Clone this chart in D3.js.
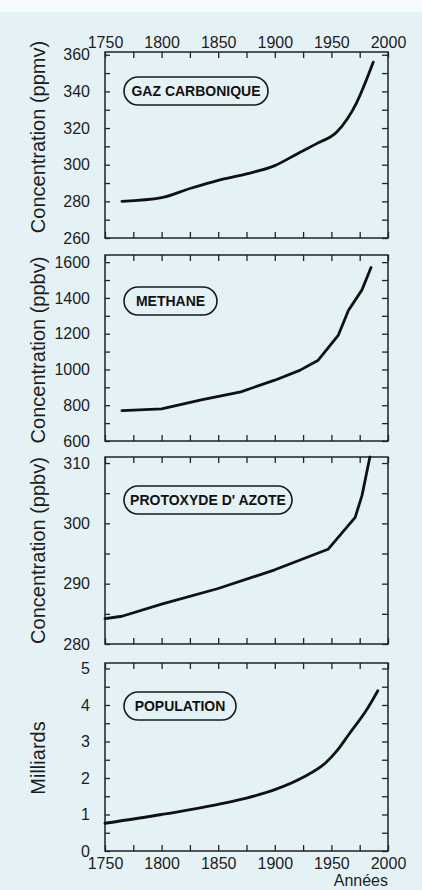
<!DOCTYPE html>
<html lang="fr">
<head>
<meta charset="utf-8">
<title>Gaz carbonique, méthane, protoxyde d'azote et population, 1750-2000</title>
<script src="https://cdn.jsdelivr.net/npm/d3@7"></script>
<style>
  html, body { margin: 0; padding: 0; background: #e5f2f5; }
  svg { display: block; }
  .tick text {
    font-family: "Liberation Sans", Arial, sans-serif;
    font-size: 16px;
    fill: #1d1d1d;
  }
  .tick line { stroke: #222; stroke-width: 1.3; }
  .ytitle, .xtitle {
    font-family: "Liberation Sans", Arial, sans-serif;
    font-size: 20px;
    fill: #1d1d1d;
  }
  .tag text {
    font-family: "Liberation Sans", Arial, sans-serif;
    font-weight: bold;
    font-size: 14px;
    fill: #111;
  }
</style>
</head>
<body>
<div id="chart"></div>
<script>
// values
const co2Years   = [1765, 1800, 1825, 1850, 1875, 1900, 1920, 1937, 1955, 1972, 1987];
const co2Values  = [280, 282, 287, 291.5, 295, 299.5, 306, 311.5, 318, 333.5, 356];

const ch4Years   = [1765, 1800, 1835, 1870, 1900, 1922, 1938, 1956, 1965, 1977, 1985];
const ch4Values  = [770, 780, 830, 875, 940, 995, 1050, 1190, 1330, 1445, 1570];

const n2oYears   = [1750, 1765, 1800, 1850, 1900, 1947, 1971, 1977, 1984];
const n2oValues  = [284.2, 284.6, 286.6, 289.2, 292.3, 295.7, 301, 304.6, 311];

const popYears   = [1750, 1800, 1850, 1875, 1900, 1925, 1945, 1955, 1966, 1981, 1991];
const popValues  = [0.76, 1.0, 1.28, 1.45, 1.68, 2.02, 2.42, 2.75, 3.22, 3.86, 4.39];

const yearTicks  = [1750, 1800, 1850, 1900, 1950, 2000];
const co2Ticks   = [260, 280, 300, 320, 340, 360];
const ch4Ticks   = [600, 800, 1000, 1200, 1400, 1600];
const n2oTicks   = [280, 290, 300, 310];
const popTicks   = [0, 1, 2, 3, 4, 5];

const seriesNames = ["GAZ CARBONIQUE", "METHANE", "PROTOXYDE D' AZOTE", "POPULATION"];
const yTitles     = ["Concentration (ppmv)", "Concentration (ppbv)", "Concentration (ppbv)", "Milliards"];

const width = 422;
const height = 890;
const left = 105, right = 388;

// layout of the four stacked frames
const panels = [
  { years: co2Years, values: co2Values, ticks: co2Ticks, minor: 10,  domain: [260, 361.5], top: 52,  bottom: 238, tagY: 25, tagW: 144, titleShift: -8, curve: d3.curveMonotoneX },
  { years: ch4Years, values: ch4Values, ticks: ch4Ticks, minor: 100, domain: [600, 1640],  top: 255, bottom: 441, tagY: 32, tagW: 93,  titleShift: 2,  curve: d3.curveLinear },
  { years: n2oYears, values: n2oValues, ticks: n2oTicks, minor: 5,   domain: [280, 311],   top: 457, bottom: 644, tagY: 29, tagW: 168, titleShift: 0,  curve: d3.curveLinear },
  { years: popYears, values: popValues, ticks: popTicks, minor: 0.5, domain: [0, 5.15],    top: 663, bottom: 851, tagY: 29, tagW: 112, titleShift: 1,  curve: d3.curveMonotoneX }
];

const svg = d3.select('#chart')
  .append('svg')
  .attr('width', width)
  .attr('height', height);

svg.append('rect').attr('width', width).attr('height', height).attr('fill', '#e5f2f5');
svg.append('rect').attr('width', width).attr('height', 12).attr('fill', '#f6fafa');

const x = d3.scaleLinear().domain([1750, 2000]).range([left, right]);
const yearMinor = d3.range(1750, 2001, 25);

const noDomain = g => g.select('.domain').remove();

panels.forEach((p, i) => {
  const y = d3.scaleLinear().domain(p.domain).range([p.bottom, p.top]);
  const lo = p.ticks[0], hi = p.ticks[p.ticks.length - 1];
  const yMinor = d3.range(0, Math.round((hi - lo) / p.minor) + 1).map(k => lo + k * p.minor);
  const g = svg.append('g');

  // inward ticks on all four sides
  g.append('g')
    .attr('transform', `translate(${left},0)`)
    .call(d3.axisLeft(y).tickValues(yMinor).tickSize(-5).tickFormat(''))
    .call(noDomain);
  g.append('g')
    .attr('transform', `translate(${right},0)`)
    .call(d3.axisRight(y).tickValues(yMinor).tickSize(-6).tickFormat(''))
    .call(noDomain);
  g.append('g')
    .attr('transform', `translate(0,${p.top})`)
    .call(d3.axisTop(x).tickValues(yearMinor).tickSize(-6).tickFormat(''))
    .call(noDomain);
  g.append('g')
    .attr('transform', `translate(0,${p.bottom})`)
    .call(d3.axisBottom(x).tickValues(yearMinor).tickSize(-6).tickFormat(''))
    .call(noDomain);

  // value labels
  g.append('g')
    .attr('transform', `translate(${left},0)`)
    .call(d3.axisLeft(y).tickValues(p.ticks).tickSize(0).tickPadding(15).tickFormat(d3.format('d')))
    .call(noDomain);

  if (i === 0) {
    g.append('g')
      .attr('transform', `translate(0,${p.top})`)
      .call(d3.axisTop(x).tickValues(yearTicks).tickSize(0).tickPadding(4).tickFormat(d3.format('d')))
      .call(noDomain);
  }
  if (i === panels.length - 1) {
    g.append('g')
      .attr('transform', `translate(0,${p.bottom})`)
      .call(d3.axisBottom(x).tickValues(yearTicks).tickSize(0).tickPadding(7).tickFormat(d3.format('d')))
      .call(noDomain);
  }

  g.append('rect')
    .attr('x', left)
    .attr('y', p.top)
    .attr('width', right - left)
    .attr('height', p.bottom - p.top)
    .attr('fill', 'none')
    .attr('stroke', '#222')
    .attr('stroke-width', 1.5);

  const line = d3.line()
    .x(d => x(d[0]))
    .y(d => y(d[1]))
    .curve(p.curve);

  g.append('path')
    .datum(p.years.map((yr, k) => [yr, p.values[k]]))
    .attr('d', line)
    .attr('fill', 'none')
    .attr('stroke', '#111')
    .attr('stroke-width', 2.8)
    .attr('stroke-linejoin', 'round')
    .attr('stroke-linecap', 'round');

  // rounded name tag
  const tag = g.append('g')
    .attr('class', 'tag')
    .attr('transform', `translate(124,${p.top + p.tagY})`);
  tag.append('rect')
    .attr('width', p.tagW)
    .attr('height', 28)
    .attr('rx', 14)
    .attr('fill', 'none')
    .attr('stroke', '#1a1a1a')
    .attr('stroke-width', 1.6);
  tag.append('text')
    .attr('x', p.tagW / 2)
    .attr('y', 14)
    .attr('dy', '0.36em')
    .attr('text-anchor', 'middle')
    .text(seriesNames[i]);

  svg.append('text')
    .attr('class', 'ytitle')
    .attr('text-anchor', 'middle')
    .attr('transform', `translate(45,${(p.top + p.bottom) / 2 + p.titleShift}) rotate(-90)`)
    .text(yTitles[i]);
});

svg.append('text')
  .attr('class', 'xtitle')
  .attr('x', right)
  .attr('y', 886)
  .attr('text-anchor', 'end')
  .style('font-size', '16px')
  .text('Années');
</script>
</body>
</html>
